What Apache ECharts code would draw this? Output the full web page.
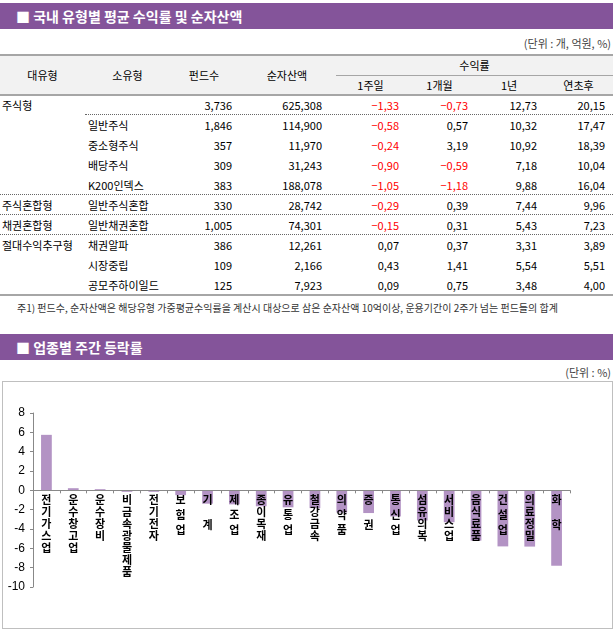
<!DOCTYPE html>
<html>
<head>
<meta charset="utf-8">
<script src="https://cdn.jsdelivr.net/npm/echarts@6/dist/echarts.min.js"></script>
<style>
  body { margin: 0; background: #fff; font-family: "Noto Sans CJK KR", "Noto Sans", sans-serif; color: #000; }
  .head { position: absolute; left: 0; width: 613px; height: 26px; background: #84549a; color: #fff;
          font-weight: bold; font-size: 14px; line-height: 26px; padding-left: 16px; box-sizing: border-box; }
  .unit { position: absolute; right: 4px; font-size: 11px; color: #444; line-height: 14px; }
  .c { position: absolute; font-size: 11px; line-height: 20px; height: 20px; white-space: nowrap; }
  .ln { position: absolute; }
  #note { position: absolute; left: 17px; top: 302px; font-size: 10px; color: #333; line-height: 12px; white-space: nowrap; }
  #box { position: absolute; left: 2px; top: 381px; width: 611px; height: 248px; border: 1px solid #bfbfbf; box-sizing: border-box; }
  #chart { width: 609px; height: 246px; }
</style>
</head>
<body>
<div class="head" style="top:3px">■ 국내 유형별 평균 수익률 및 순자산액</div>
<div class="unit" style="top:36px">(단위 : 개, 억원, %)</div>
<div id="table"></div>
<div id="note">주1) 펀드수, 순자산액은 해당유형 가중평균수익률을 계산시 대상으로 삼은 순자산액 10억이상, 운용기간이 2주가 넘는 펀드들의 합계</div>
<div class="head" style="top:334px">■ 업종별 주간 등락률</div>
<div class="unit" style="top:365px">(단위 : %)</div>
<div id="box"><div id="chart"></div></div>
<script>
// fund table
const majorTypes = ["주식형", "", "", "", "", "주식혼합형", "채권혼합형", "절대수익추구형", "", ""];
const subTypes = ["", "일반주식", "중소형주식", "배당주식", "K200인덱스", "일반주식혼합", "일반채권혼합", "채권알파", "시장중립", "공모주하이일드"];
const fundCounts = [3736, 1846, 357, 309, 383, 330, 1005, 386, 109, 125];
const netAssets = [625308, 114900, 11970, 31243, 188078, 28742, 74301, 12261, 2166, 7923];
const ret1w = [-1.33, -0.58, -0.24, -0.90, -1.05, -0.29, -0.15, 0.07, 0.43, 0.09];
const ret1m = [-0.73, 0.57, 3.19, -0.59, -1.18, 0.39, 0.31, 0.37, 1.41, 0.75];
const ret1y = [12.73, 10.32, 10.92, 7.18, 9.88, 7.44, 5.43, 3.31, 5.54, 3.48];
const retYtd = [20.15, 17.47, 18.39, 10.04, 16.04, 9.96, 7.23, 3.89, 5.51, 4.00];

// sector chart
const sectors = ["전기가스업", "운수창고업", "운수장비", "비금속광물제품", "전기전자", "보험업", "기계", "제조업", "종이목재", "유통업",
  "철강금속", "의약품", "증권", "통신업", "섬유의복", "서비스업", "음식료품", "건설업", "의료정밀", "화학"];
const weeklyChange = [5.74, 0.22, 0.12, -0.15, -0.15, -0.5, -1.38, -1.45, -1.65, -1.76,
  -1.84, -2.3, -2.35, -2.7, -3.12, -3.3, -5.2, -5.8, -5.82, -7.8];
const yMin = -10, yMax = 8;

const tbl = document.getElementById("table");
const cols = [
  { x: 0, w: 85, al: "left", pad: 2, head: "대유형" },
  { x: 85, w: 85, al: "left", pad: 3, head: "소유형" },
  { x: 170, w: 68, al: "right", pad: 6, head: "펀드수" },
  { x: 238, w: 98, al: "right", pad: 14, head: "순자산액" },
  { x: 336, w: 69, al: "right", pad: 6, head: "1주일" },
  { x: 405, w: 69, al: "right", pad: 6, head: "1개월" },
  { x: 474, w: 70, al: "right", pad: 7, head: "1년" },
  { x: 544, w: 69, al: "right", pad: 8, head: "연초후" },
];

function box(cls, x, y, w, h, css, text) {
  const d = document.createElement("div");
  d.className = cls;
  d.style.cssText = `left:${x}px;top:${y}px;width:${w}px;height:${h}px;` + (css || "");
  if (text !== undefined) d.textContent = text;
  tbl.appendChild(d);
  return d;
}
const fmtInt = (v) => v.toLocaleString("en-US");
const fmtRet = (v) => (v < 0 ? "−" : "") + Math.abs(v).toFixed(2).replace(".", ",");

// header
box("ln", 0, 55, 613, 40, "background:#f2f2f2");
box("ln", 0, 54, 613, 2, "background:#a6a6a6");
box("ln", 336, 75, 277, 1, "background:#a6a6a6");
box("ln", 0, 94, 613, 2, "background:#a6a6a6");
cols.forEach((c, i) => {
  if (i < 4) box("c", c.x, 65, c.w, 20, "text-align:center", c.head);
  else box("c", c.x, 75, c.w, 20, "text-align:center", c.head);
});
box("c", 336, 55, 277, 20, "text-align:center", "수익률");

// rows
majorTypes.forEach((m, i) => {
  const y = 95 + i * 20;
  const cells = [m, subTypes[i], fmtInt(fundCounts[i]), fmtInt(netAssets[i]),
    fmtRet(ret1w[i]), fmtRet(ret1m[i]), fmtRet(ret1y[i]), fmtRet(retYtd[i])];
  const raw = [null, null, null, null, ret1w[i], ret1m[i], ret1y[i], retYtd[i]];
  cells.forEach((t, j) => {
    const c = cols[j];
    const pad = c.al === "left" ? `padding-left:${c.pad}px;` : `padding-right:${c.pad}px;`;
    const col = raw[j] !== null && raw[j] < 0 ? "color:#ff0000;" : "";
    box("c", c.x, y, c.w, 20, `text-align:${c.al};box-sizing:border-box;${pad}${col}`, t);
  });
  if (i < majorTypes.length - 1) {
    if (majorTypes[i + 1] !== "") box("ln", 0, y + 19, 613, 0, "border-top:1px dotted #666");
    else if (subTypes[i] === "") box("ln", 85, y + 19, 528, 0, "border-top:1px dotted #666");
  }
});
box("ln", 0, 294, 613, 2, "background:#a6a6a6");

// chart
const gridTop = 31, gridH = 174;
// move the category axis (line + labels) up from the grid bottom to the zero line
const zeroOffset = -gridH * (0 - yMin) / (yMax - yMin);
const stepStyle = (n) => (n <= 2 ? "s2" : n === 3 ? "s3" : "s4");
const tok = (lh) => ({ lineHeight: lh, verticalAlign: "top", fontSize: 11, fontWeight: "bold",
  fontFamily: "Noto Sans CJK KR", color: "#000" });

const chart = echarts.init(document.getElementById("chart"));
chart.setOption({
  animation: false,
  grid: { left: 30, right: 42, top: gridTop, height: gridH, outerBoundsMode: "none" },
  xAxis: {
    type: "category",
    data: sectors,
    z: 10,
    offset: zeroOffset,
    axisLine: { onZero: false, lineStyle: { color: "#888" } },
    axisTick: { show: true, interval: 0, length: 3, lineStyle: { color: "#888" } },
    axisLabel: {
      interval: 0,
      margin: 4,
      formatter: (v) => v.split("").map((ch) => `{${stepStyle(v.length)}|${ch}}`).join("\n"),
      rich: { s2: tok(25), s3: tok(15), s4: tok(12) },
    },
  },
  yAxis: {
    type: "value",
    min: yMin,
    max: yMax,
    interval: 2,
    splitLine: { show: false },
    axisLine: { show: true, lineStyle: { color: "#888" } },
    axisTick: { show: true, length: 3, lineStyle: { color: "#888" } },
    axisLabel: { fontSize: 12, color: "#000", fontFamily: "Liberation Sans" },
  },
  series: [
    {
      type: "bar",
      data: weeklyChange,
      barWidth: "40%",
      itemStyle: { color: "#b393c4" },
    },
  ],
});
</script>
</body>
</html>
